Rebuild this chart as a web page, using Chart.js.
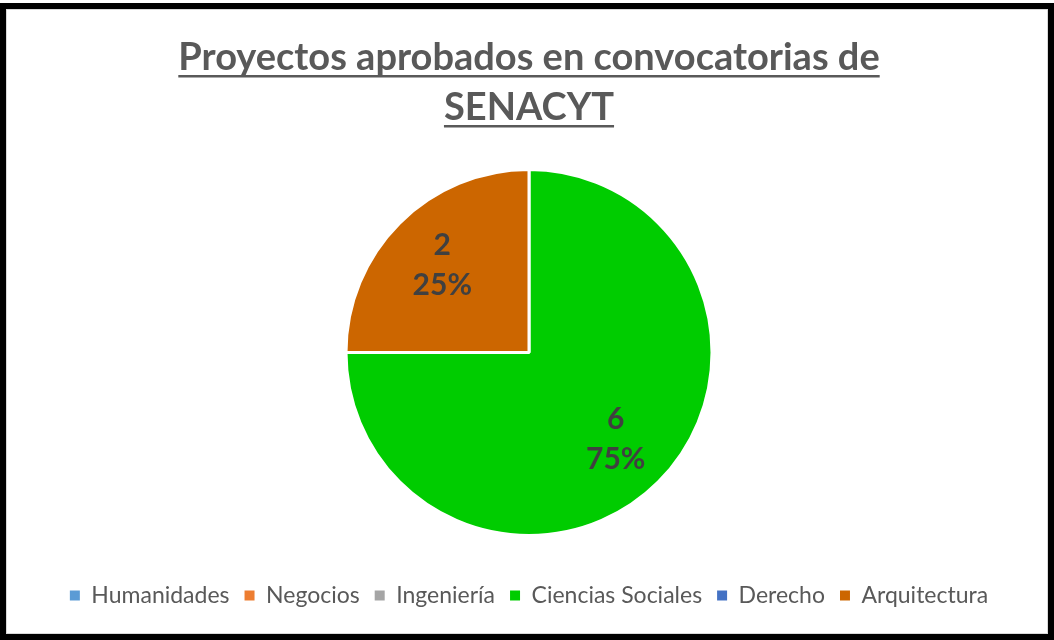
<!DOCTYPE html>
<html>
<head>
<meta charset="utf-8">
<script src="https://cdn.jsdelivr.net/npm/chart.js@4/dist/chart.umd.min.js"></script>
<style>
  html, body { margin: 0; padding: 0; background: #ffffff; }
  #frame {
    position: absolute; left: 0; top: 3px; width: 1054px; height: 637px;
    box-sizing: border-box; border: 6px solid #000; background: #fff;
  }
  #inner {
    position: absolute; left: 0; top: 0; right: 0; bottom: 0;
    border: 1px solid #d9d9d9; box-sizing: border-box;
  }
  #wrap { position: absolute; left: 1px; top: 1px; width: 1040px; height: 623px; }
</style>
</head>
<body>
<div id="frame"><div id="inner"><div id="wrap"><canvas id="c" width="1040" height="623"></canvas></div></div></div>
<script>
const titleLines = ['Proyectos aprobados en convocatorias de', 'SENACYT'];
const categories = ['Humanidades', 'Negocios', 'Ingeniería', 'Ciencias Sociales', 'Derecho', 'Arquitectura'];
const values = [0, 0, 0, 6, 0, 2];
const sliceColors = ['#5B9BD5', '#ED7D31', '#A5A5A5', '#00CC00', '#4472C4', '#CC6600'];

const FONT = 'Lato';

const underlineTitle = {
  id: 'underlineTitle',
  afterDraw(chart) {
    const tb = chart.titleBlock;
    if (!tb || !tb.options.display) return;
    const opts = tb.options;
    const font = Chart.helpers.toFont(opts.font);
    const pad = Chart.helpers.toPadding(opts.padding);
    const ctx = chart.ctx;
    ctx.save();
    ctx.font = font.string;
    ctx.textBaseline = 'middle';
    const hm = ctx.measureText('H');
    const toBase = hm.actualBoundingBoxDescent;
    const cx = (tb.left + tb.right) / 2;
    ctx.strokeStyle = opts.color;
    ctx.lineWidth = 2.5;
    titleLines.forEach((line, i) => {
      const yc = tb.top + pad.top + font.lineHeight / 2 + i * font.lineHeight;
      const w = ctx.measureText(line).width;
      const y = yc + toBase + 6;
      ctx.beginPath();
      ctx.moveTo(cx - w / 2, y);
      ctx.lineTo(cx + w / 2, y);
      ctx.stroke();
    });
    ctx.restore();
  }
};

const sliceLabels = {
  id: 'sliceLabels',
  afterDatasetsDraw(chart) {
    const ctx = chart.ctx;
    const meta = chart.getDatasetMeta(0);
    const data = chart.data.datasets[0].data;
    const total = data.reduce((a, b) => a + b, 0);
    ctx.save();
    ctx.font = 'bold 30px ' + FONT;
    ctx.fillStyle = '#404040';
    ctx.textAlign = 'center';
    ctx.textBaseline = 'middle';
    meta.data.forEach((arc, i) => {
      const v = data[i];
      if (!v) return;
      const p = arc.getProps(['x', 'y', 'startAngle', 'endAngle', 'outerRadius'], true);
      const mid = (p.startAngle + p.endAngle) / 2;
      const r = p.outerRadius * 0.67;
      const x = p.x + Math.cos(mid) * r;
      const y = p.y + Math.sin(mid) * r;
      const pct = Math.round(v / total * 100) + '%';
      ctx.fillText(String(v), x, y - 20);
      ctx.fillText(pct, x, y + 20);
    });
    ctx.restore();
  }
};

new Chart(document.getElementById('c'), {
  type: 'pie',
  data: {
    labels: categories,
    datasets: [{
      data: values,
      backgroundColor: sliceColors,
      borderColor: '#ffffff',
      borderWidth: 3
    }]
  },
  plugins: [underlineTitle, sliceLabels],
  options: {
    responsive: false,
    animation: false,
    layout: { padding: { top: 0, bottom: 17, left: 2, right: 0 } },
    plugins: {
      tooltip: { enabled: false },
      title: {
        display: true,
        text: titleLines,
        color: '#595959',
        font: { family: FONT, size: 38, weight: 'bold', lineHeight: '50px' },
        padding: { top: 22, bottom: 35 }
      },
      legend: {
        display: true,
        position: 'bottom',
        title: {
          display: true,
          text: '',
          font: { family: FONT, size: 12, lineHeight: '14px' },
          padding: { top: 9, bottom: 9 }
        },
        labels: {
          color: '#595959',
          font: { family: FONT, size: 23 },
          boxWidth: 10,
          boxHeight: 10,
          padding: 15,
          generateLabels(chart) {
            const items = Chart.overrides.pie.plugins.legend.labels.generateLabels(chart);
            return items.map(it => Object.assign(it, { lineWidth: 0, strokeStyle: it.fillStyle }));
          }
        }
      }
    }
  }
});
</script>
</body>
</html>
